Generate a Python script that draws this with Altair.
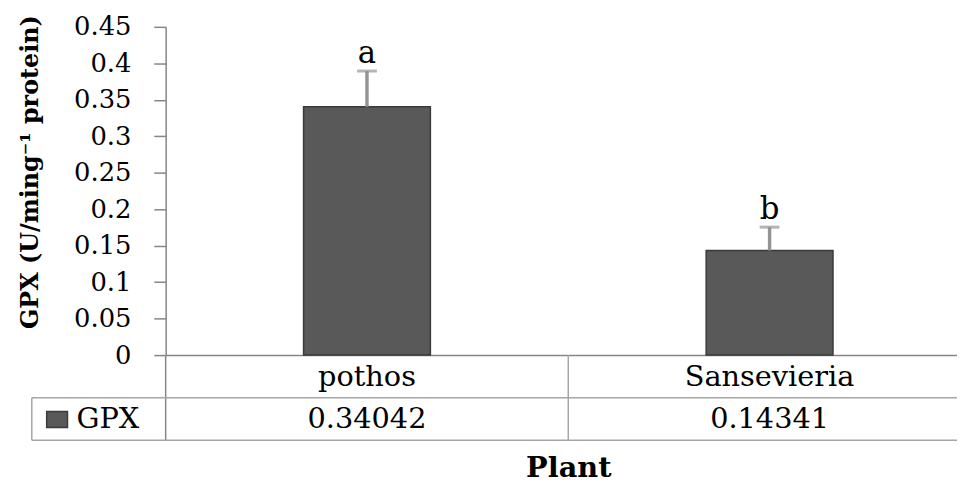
import altair as alt
import pandas as pd

# ---- data ----
plants = ["pothos", "Sansevieria"]
gpx = [0.34042, 0.14341]
gpx_err = [0.049, 0.032]
letters = ["a", "b"]
value_labels = ["0.34042", "0.14341"]
y_ticks = [0, 0.05, 0.1, 0.15, 0.2, 0.25, 0.3, 0.35, 0.4, 0.45]
series_name = ["GPX"]

df = pd.DataFrame({
    "plant": plants,
    "gpx": gpx,
    "err": gpx_err,
    "top": [v + e for v, e in zip(gpx, gpx_err)],
    "letter": letters,
    "label": value_labels,
})
leg = pd.DataFrame({"name": series_name})

FONT = "DejaVu Serif"
AXIS_C = "#868686"
TABLE_C = "#a6a6a6"
BAR_C = "#595959"
PLOT_W = 798
PLOT_H = 331
X_RANGE = 812

xs = alt.Scale(domain=plants, range=[0, X_RANGE], paddingInner=0, paddingOuter=0)
ys = alt.Scale(domain=[0, 0.45], nice=False, zero=True)

x_axis = alt.Axis(labels=False, ticks=False, domain=True, domainColor=AXIS_C,
                  domainWidth=1.5, title="Plant", titleFont=FONT,
                  titleFontSize=29, titleFontWeight="bold", titleColor="black",
                  titleY=122, titleBaseline="alphabetic")

y_axis = alt.Axis(values=y_ticks, format="~g", grid=False, tickSize=12, tickColor=AXIS_C,
                  tickWidth=1.5, domainColor=AXIS_C, domainWidth=1.5, labelPadding=23,
                  labelOverlap=False, labelFlush=False,
                  labelFont=FONT, labelFontSize=26, labelColor="black",
                  title="GPX (U/ming⁻¹ protein)", titleFont=FONT, titleFontSize=24,
                  titleFontWeight="bold", titleColor="black", titleAngle=270,
                  titleX=-136, titleY=146, titleAlign="center", titleBaseline="middle")


def X(**kw):
    return alt.X("plant:N", scale=xs, sort=plants, axis=x_axis, **kw)


def Y(field):
    return alt.Y(field, scale=ys, axis=y_axis, title="GPX (U/ming⁻¹ protein)")


base = alt.Chart(df)

bars = base.mark_bar(width=alt.RelativeBandSize(0.315), color=BAR_C,
                     stroke="#3a3a3a", strokeWidth=1.5).encode(x=X(), y=Y("gpx:Q"))

err_line = base.mark_rule(color="#949494", strokeWidth=3.5).encode(
    x=X(), y=Y("gpx:Q"), y2="top:Q")

err_cap = base.mark_tick(color="#949494", size=20, thickness=3).encode(
    x=X(), y=Y("top:Q"))

letter_txt = base.mark_text(font=FONT, fontSize=31, baseline="bottom", dy=-1,
                            color="black").encode(x=X(), y=Y("top:Q"), text="letter:N")

# ---- data table below the plot ----
cat_txt = base.mark_text(font=FONT, fontSize=29, baseline="middle", color="black").encode(
    x=X(), y=alt.value(353), text="plant:N")

val_txt = base.mark_text(font=FONT, fontSize=29, baseline="middle", color="black").encode(
    x=X(), y=alt.value(396), text="label:N")

col_lines = base.mark_rule(color=TABLE_C, strokeWidth=1.5).encode(
    x=X(bandPosition=1), y=alt.value(PLOT_H), y2=alt.value(417))

axis_ext = alt.Chart(leg).mark_rule(color=AXIS_C, strokeWidth=1.5).encode(
    x=alt.value(0), y=alt.value(PLOT_H), y2=alt.value(417))

row_line1 = alt.Chart(leg).mark_rule(color=TABLE_C, strokeWidth=1.5).encode(
    x=alt.value(-135), x2=alt.value(X_RANGE + 20), y=alt.value(374))
row_line2 = alt.Chart(leg).mark_rule(color=TABLE_C, strokeWidth=1.5).encode(
    x=alt.value(-135), x2=alt.value(X_RANGE + 20), y=alt.value(417))
left_line = alt.Chart(leg).mark_rule(color=TABLE_C, strokeWidth=1.5).encode(
    x=alt.value(-135), y=alt.value(374), y2=alt.value(417))

leg_box = alt.Chart(leg).mark_rect(color=BAR_C, stroke="#3a3a3a", strokeWidth=1.5).encode(
    x=alt.value(-120), x2=alt.value(-99), y=alt.value(388), y2=alt.value(404))
leg_txt = alt.Chart(leg).mark_text(font=FONT, fontSize=29, baseline="middle", align="left",
                                   color="black").encode(
    x=alt.value(-90), y=alt.value(396), text="name:N")

chart = alt.layer(
    bars, err_line, err_cap, letter_txt,
    axis_ext, col_lines, row_line1, row_line2, left_line,
    cat_txt, val_txt, leg_box, leg_txt,
).properties(
    width=PLOT_W, height=PLOT_H,
    autosize=alt.AutoSizeParams(type="none"),
    padding={"left": 159, "top": 17, "right": 0, "bottom": 128},
    background="white",
).configure_view(stroke=None)

chart.save("out.html", embed_options={"renderer": "svg", "actions": False})
